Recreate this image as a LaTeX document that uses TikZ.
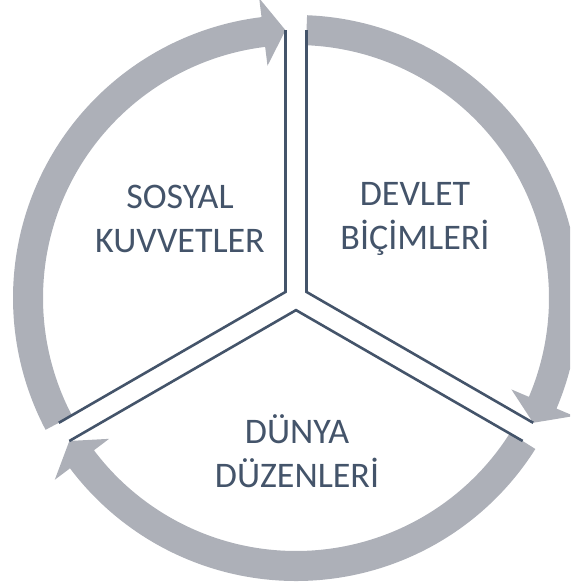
\documentclass[tikz,border=0pt]{standalone}
\usepackage{fontspec}
\setmainfont{Carlito}
\definecolor{slate}{HTML}{44546A}
\definecolor{ringgray}{HTML}{ADB0B8}

\begin{document}
\begin{tikzpicture}[x=1pt, y=1pt,
  divider/.style={draw=slate, line width=2.6pt},
  ringarrow/.style={fill=ringgray},
  label/.style={text=slate, align=center, inner sep=0pt, font=\fontsize{36}{44}\selectfont}]
\useasboundingbox (0,0) rectangle (570,-588);
\clip (0,0) rectangle (570,-588);
\begin{scope}[shift={(296,-298)}]
% ring arrows, clockwise
\fill[ringarrow] (87.755:253) arc[start angle=87.755, end angle=-23, radius=253]
  -- (-23:234) -- (-27.755:268) -- (-23:302) -- (-23:283)
  arc[start angle=-23, end angle=87.755, radius=283] -- cycle;
\fill[ringarrow] (-32.245:253) arc[start angle=-32.245, end angle=-143, radius=253]
  -- (-143:234) -- (-147.755:268) -- (-143:302) -- (-143:283)
  arc[start angle=-143, end angle=-32.245, radius=283] -- cycle;
\fill[ringarrow] (207.755:253) arc[start angle=207.755, end angle=97, radius=253]
  -- (97:234) -- (92.245:268) -- (97:302) -- (97:283)
  arc[start angle=97, end angle=207.755, radius=283] -- cycle;

% dividers
\draw[divider] (92.245:268) -- (150:12.12) -- (207.755:268);
\draw[divider] (87.755:268) -- (30:12.12) -- (-27.755:268);
\draw[divider] (212.245:268) -- (270:12.12) -- (327.755:268);

\node[label] (sosyal) at (-116,79) {SOSYAL\\KUVVETLER};
\node[label] (devlet) at (119,79) {DEVLET\\BİÇİMLERİ};
\node[label] (dunya) at (1,-153) {DÜNYA\\DÜZENLERİ};
\end{scope}
\end{tikzpicture}
\end{document}
